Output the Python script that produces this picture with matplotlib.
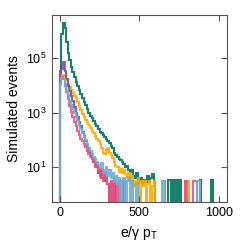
import numpy as np
import matplotlib
matplotlib.use('Agg')
import matplotlib.pyplot as plt

plt.rcParams['font.family'] = ['Liberation Sans', 'DejaVu Sans']
plt.rcParams['mathtext.default'] = 'regular'

# bin edges: 100 bins of width 10 from 0 to 1000
edges = np.arange(0, 1001, 10)

# counts per bin (zero = empty bin)
green = [16000, 790000, 2000000, 1260000, 400000, 158000, 89000, 50000, 31600, 20000,
         14100, 10000, 7100, 5000, 3550, 2500, 1900, 1400, 1000, 790,
         630, 500, 400, 316, 250, 200, 178, 158, 126, 112,
         89, 79, 63, 50, 35, 28, 25, 20, 18, 16,
         13, 10, 11, 8, 7, 8, 5, 4, 6, 3,
         3.5, 4, 2.5, 3.5, 3, 5, 2.8, 4, 5.6, 3,
         0, 0, 0, 0, 0, 0, 0, 0, 3.5, 3.5,
         0, 3.5, 0, 3.5, 0, 3.5, 0, 0, 0, 0,
         0, 0, 0, 0, 0, 0, 0, 0, 3.5, 0,
         0, 0, 0, 0, 0, 3.5, 0, 0, 0, 0]

orange = [20000, 24000, 25000, 22000, 15800, 11200, 8900, 7100, 5200, 4200,
          3550, 2500, 1800, 1260, 890, 710, 560, 450, 355, 280,
          224, 178, 141, 112, 89, 71, 50, 35, 32, 45,
          50, 35, 28, 22, 16, 11, 10, 7, 9, 6.3,
          8, 5.6, 4, 6.3, 3.2, 5, 2, 3.2, 2.5, 4,
          0, 3.2, 2, 3.2, 0, 2.5, 3.2, 0, 2, 3.2,
          0, 0, 0, 0, 0, 3.2, 0, 0, 0, 0,
          0, 0, 0, 0, 0, 0, 0, 0, 0, 3.2,
          3.2, 0, 0, 0, 0, 0, 0, 0, 0, 0,
          0, 0, 0, 0, 0, 0, 0, 0, 0, 0]

purple = [35000, 40000, 74000, 35000, 17800, 10000, 6300, 4200, 2800, 1600,
          1000, 700, 450, 316, 200, 141, 89, 56, 40, 32,
          22, 16, 12.6, 10, 6.3, 8, 4, 5, 3.2, 4,
          2.5, 0, 3, 0, 2.5, 0, 0, 0, 0, 0,
          0, 0, 0, 0, 0, 0, 0, 0, 0, 0,
          0, 0, 0, 0, 0, 0, 0, 0, 0, 0,
          0, 0, 0, 0, 0, 0, 0, 0, 0, 0,
          0, 0, 0, 0, 0, 0, 0, 0, 0, 0,
          0, 0, 0, 0, 0, 0, 0, 0, 0, 0,
          0, 0, 0, 0, 0, 0, 0, 0, 0, 0]

pink = [12600, 20000, 17800, 10000, 5600, 3200, 1800, 1100, 700, 450,
        316, 224, 158, 112, 89, 71, 56, 40, 32, 25,
        20, 18, 10, 14, 8, 5, 9, 3.2, 6.3, 4,
        2.5, 0, 3.2, 0, 4, 2.5, 0, 3.2, 0, 0,
        3.2, 0, 0, 0, 0, 0, 0, 0, 0, 0,
        0, 0, 0, 0, 0, 0, 0, 0, 0, 0,
        0, 0, 0, 0, 0, 0, 0, 0, 0, 0,
        0, 0, 0, 0, 0, 0, 0, 0, 0, 3.2,
        0, 0, 0, 0, 3.2, 3.2, 0, 0, 0, 0,
        0, 0, 0, 0, 0, 0, 0, 0, 0, 0]

blue = [11000, 19000, 17800, 11200, 7100, 4500, 2800, 2000, 1400, 1000,
        710, 500, 355, 250, 178, 126, 100, 71, 50, 40,
        32, 25, 20, 16, 12.6, 10, 14, 8, 6.3, 10,
        5, 8, 4, 6.3, 3.2, 5, 2.5, 4, 0, 3.2,
        4, 0, 3.2, 4, 0, 3.2, 0, 0, 2.5, 0,
        0, 0, 0, 0, 0, 0, 0, 0, 0, 0,
        0, 0, 0, 0, 3.2, 3.2, 0, 0, 0, 0,
        0, 0, 0, 0, 0, 0, 0, 0, 0, 0,
        0, 0, 0, 0, 0, 0, 3.2, 3.2, 0, 0,
        0, 0, 0, 0, 0, 0, 0, 0, 0, 0]

fig = plt.figure(figsize=(2.49, 2.49), dpi=100)
ax = fig.add_axes([0.208, 0.19, 0.703, 0.75])
ax.set_yscale('log')

# draw step histograms, light blue last so it ends up on top
ax.stairs(green, edges, baseline=0, color='#00755e', lw=1.5, alpha=0.9)
ax.stairs(orange, edges, baseline=0, color='#ffaa00', lw=1.5, alpha=0.9)
ax.stairs(purple, edges, baseline=0, color='#7b52a6', lw=1.5, alpha=0.9)
ax.stairs(pink, edges, baseline=0, color='#e8527e', lw=1.5, alpha=0.9)
ax.stairs(blue, edges, baseline=0, color='#6baed6', lw=1.5, alpha=0.9)

ax.set_xlim(-50, 1050)
ax.set_ylim(0.55, 3.9e6)
ax.set_xticks([0, 500, 1000])
ax.set_yticks([1e1, 1e3, 1e5])
ax.yaxis.set_minor_locator(matplotlib.ticker.NullLocator())

ax.tick_params(direction='in', top=True, right=True, length=4, width=0.8,
               labelsize=9, color='#555555')
for s in ax.spines.values():
    s.set_color('#555555')

ax.set_xlabel('e/γ p$_T$', fontsize=10)
ax.set_ylabel('Simulated events', fontsize=10)

fig.savefig('out.png', dpi=100)
